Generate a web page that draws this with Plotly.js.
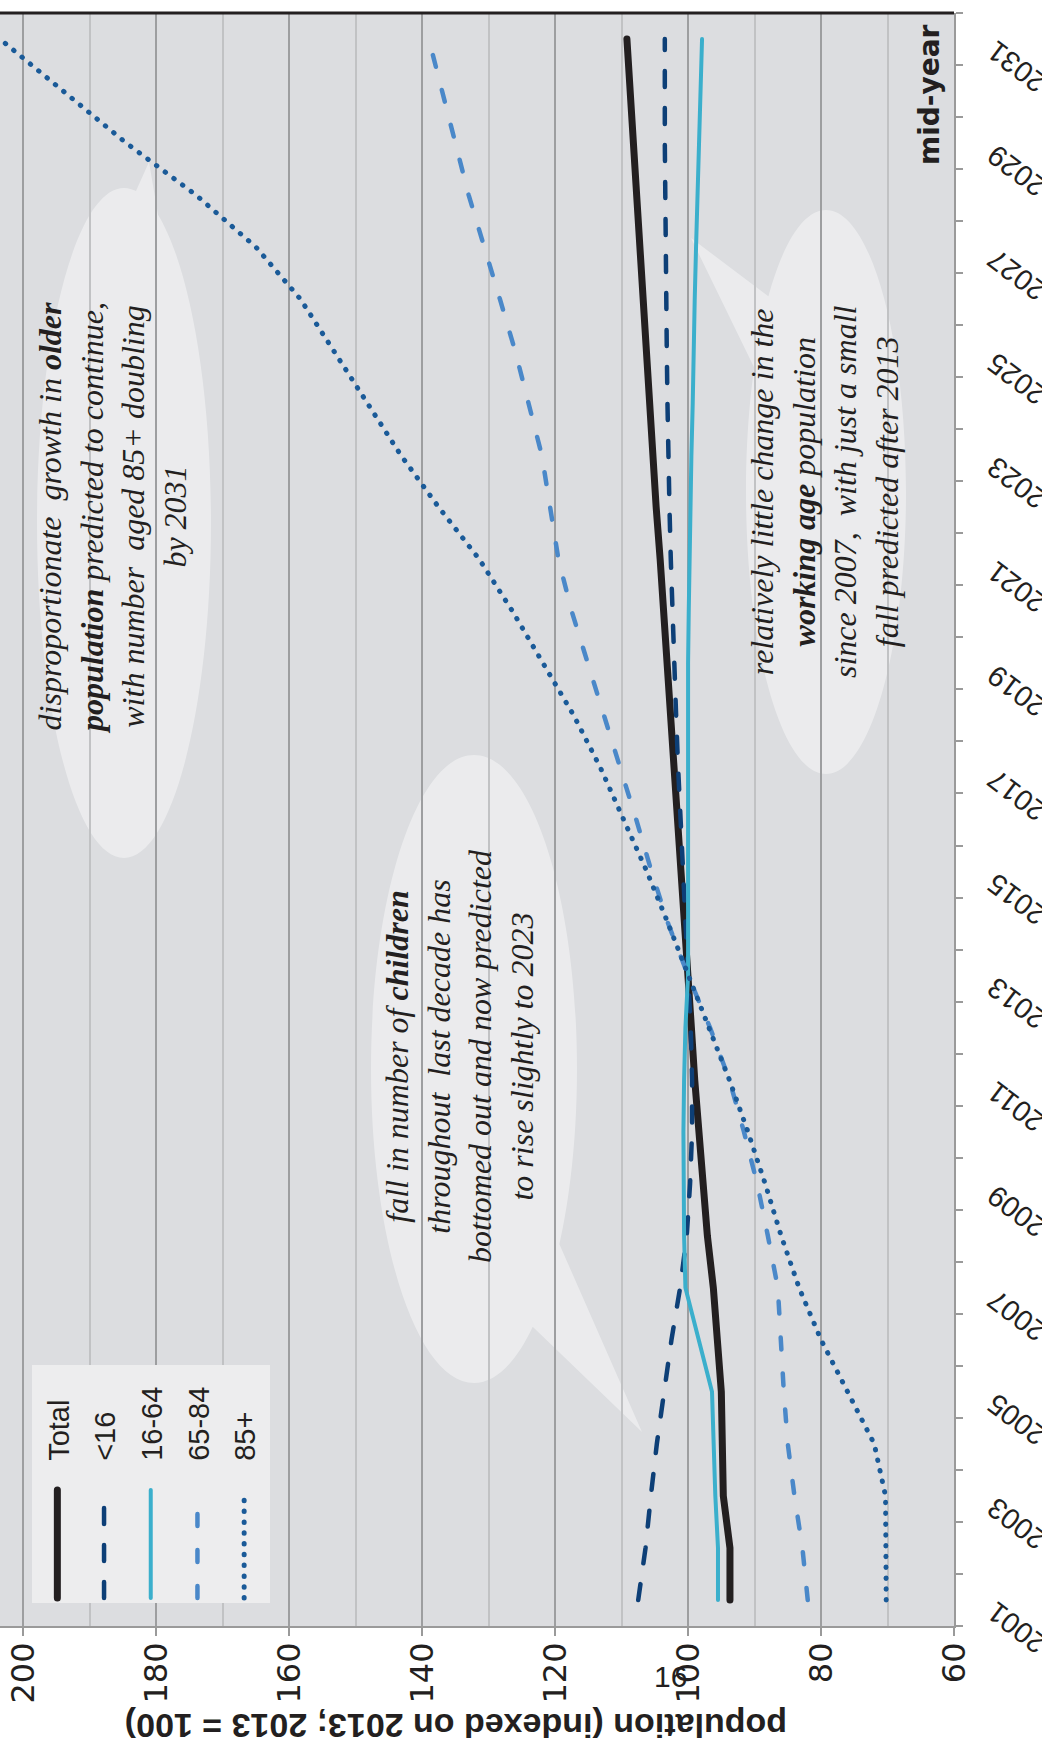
<!DOCTYPE html>
<html><head><meta charset="utf-8">
<script src="https://cdn.plot.ly/plotly-3.0.1.min.js"></script>
<style>
html,body{margin:0;padding:0;background:#fff;overflow:hidden;width:1042px;height:1754px;}
#wrap{position:absolute;left:0;top:0;width:1754px;height:1042px;transform-origin:0 0;transform:translate(0px,1754px) rotate(-90deg);}
.js-line{stroke-linecap:round;}
</style></head><body><div id="wrap"></div>
<script>
// ---- data (index, 2013 = 100), mid-year estimates/projections ----
const years = [2001,2002,2003,2004,2005,2006,2007,2008,2009,2010,2011,2012,2013,2014,2015,2016,2017,2018,2019,2020,2021,2022,2023,2024,2025,2026,2027,2028,2029,2030,2031];
const total     = [93.7,93.7,94.7,94.8,95.0,95.6,96.2,97.1,97.8,98.4,99.0,99.5,100,100.5,101.0,101.5,102.0,102.6,103.1,103.7,104.2,104.8,105.3,105.8,106.3,106.8,107.3,107.8,108.3,108.8,109.2];
const under16   = [107.5,106.4,105.6,104.7,103.6,102.5,101.2,100.2,99.7,99.4,99.4,99.6,100,100.4,100.8,101.2,101.5,101.8,102.1,102.4,102.6,102.8,103.0,103.1,103.2,103.3,103.4,103.4,103.5,103.5,103.5];
const age16to64 = [95.5,95.5,95.9,96.1,96.4,98.4,100.4,100.6,100.7,100.7,100.6,100.4,100,100.0,100.1,100.1,100.1,100.0,100.0,99.9,99.8,99.6,99.5,99.3,99.2,99.0,98.8,98.6,98.4,98.1,97.9];
const age65to84 = [82.0,82.8,84.0,85.0,85.6,86.1,86.5,88.0,89.6,91.6,93.8,96.7,100,103.0,105.5,107.8,110.2,112.6,115.0,117.5,119.5,120.8,122.0,124.0,126.0,128.3,130.6,133.0,135.0,137.0,139.0];
const age85plus = [70.2,70.2,70.3,72.0,76.0,80.0,83.3,86.0,88.4,91.0,93.8,96.8,100,103.0,106.2,109.6,113.2,117.2,121.8,126.4,131.4,137.5,143.2,148.3,153.3,158.3,165.0,174.0,184.5,194.0,203.5];
const seriesNames = ['Total','<16','16-64','65-84','85+'];
const valueTicks = [60,80,100,120,140,160,180,200];
const valueMinor = [70,90,110,130,150,170,190];
const axisTitle = 'population (indexed on 2013; 2013 = 100)';
const note1 = '<i>disproportionate  growth in <b>older</b><br><b>population</b> predicted to continue,<br>with number  aged 85+ doubling<br>by 2031</i>';
const note2 = '<i>fall in number of <b>children</b><br>throughout  last decade has<br>bottomed out and now predicted<br>to rise slightly to 2023</i>';
const note3 = '<i>relatively little change in the<br><b>working age</b> population<br>since 2007,  with just a small<br>fall predicted after 2013</i>';

// ---- geometry (unrotated chart, later turned 90deg anticlockwise) ----
const W=1754,H=1042,ML=128,MR=13,MT=0,MB=88;
const PW=W-ML-MR, PH=H-MT-MB;
function P(X,Y){ return [(W-Y-ML)/PW, 1-(X-MT)/PH]; } // picture px -> paper
function f(p){ return p[0].toFixed(5)+','+p[1].toFixed(5); }
function bubble(cx,cy,rx,ry,tip,b1,b2){
  const k=0.5523;
  let s='M'+f(P(cx+rx,cy));
  s+=' C'+f(P(cx+rx,cy+k*ry))+' '+f(P(cx+k*rx,cy+ry))+' '+f(P(cx,cy+ry));
  s+=' C'+f(P(cx-k*rx,cy+ry))+' '+f(P(cx-rx,cy+k*ry))+' '+f(P(cx-rx,cy));
  s+=' C'+f(P(cx-rx,cy-k*ry))+' '+f(P(cx-k*rx,cy-ry))+' '+f(P(cx,cy-ry));
  s+=' C'+f(P(cx+k*rx,cy-ry))+' '+f(P(cx+rx,cy-k*ry))+' '+f(P(cx+rx,cy))+' Z';
  const area=(b1[0]-tip[0])*(b2[1]-tip[1])-(b2[0]-tip[0])*(b1[1]-tip[1]);
  if(area<0){const t=b1;b1=b2;b2=t;}
  s+=' M'+f(P(tip[0],tip[1]))+' L'+f(P(b1[0],b1[1]))+' L'+f(P(b2[0],b2[1]))+' Z';
  return {type:'path',xref:'paper',yref:'paper',path:s,fillcolor:'rgba(255,255,255,0.42)',line:{width:0},layer:'between',fillrule:'nonzero'};
}

const xs = years.map(y=>y+0.5); // plotted at mid-year
const tickYears = years.concat([years[years.length-1]+1]);
const labelYears = years.filter(y=>y%2===1);
const labelText = labelYears.map(String);

const styles = [
  {color:'#231f20', width:7},
  {color:'#0d3f77', width:4.5, dash:'16px,21px'},
  {color:'#3bafcc', width:4},
  {color:'#4a88c9', width:4.5, dash:'12px,24px'},
  {color:'#1a5a98', width:5, dash:'0.5px,10.3px'}
];
const series = [total, under16, age16to64, age65to84, age85plus];
const lead = '\u00a0\u00a0\u00a0', trail = '\u00a0\u00a0';
const traces = series.map((vals,i)=>({
  type:'scatter', mode:'lines', x:xs, y:vals, name:lead+seriesNames[i]+trail,
  legendgroup:seriesNames[i], line:Object.assign({shape:'linear'},styles[i]),
  hoverinfo:'skip'
}));

const sans='Liberation Sans, Arial, sans-serif';
const wide='DejaVu Sans, Verdana, sans-serif';
const serif='Liberation Serif, Times New Roman, serif';
const narrow='Liberation Sans Narrow, Arial Narrow, Liberation Sans, sans-serif';
const ink='#231f20';

const t1=P(112,518), t2=P(460,1056), t3=P(824,492), tm=P(929,95), tt=P(456,1726), tp=P(670,1676);
function note(p,txt,fnt,extra){
  return Object.assign({xref:'paper',yref:'paper',x:p[0],y:p[1],xanchor:'center',yanchor:'middle',text:txt,showarrow:false,align:'center',font:fnt},extra||{});
}

const layout = {
  width:W, height:H,
  margin:{l:ML,r:MR,t:MT,b:MB,pad:0},
  paper_bgcolor:'#ffffff', plot_bgcolor:'#dcdde0',
  showlegend:true,
  legend:{x:(151-ML)/PW, y:1-32/PH, xanchor:'left', yanchor:'top', bgcolor:'#ededee', borderwidth:0,
          font:{family:sans,size:29,color:ink}, itemwidth:108, tracegroupgap:6, traceorder:'grouped'},
  xaxis:{range:[years[0], years[years.length-1]+1], tickvals:labelYears.map(y=>y+0.27), ticktext:labelText, tickangle:-53,
         ticks:'outside', ticklen:7, tickwidth:2, tickcolor:'rgba(0,0,0,0)', ticklabelstandoff:5,
         minor:{tickvals:tickYears, ticks:'outside', ticklen:7, tickwidth:2, tickcolor:'#9a9a9a', showgrid:false},
         showline:true, linecolor:'#9a9a9a', linewidth:2,
         showgrid:false, zeroline:false, automargin:false, tickfont:{family:sans,size:29,color:ink}},
  yaxis:{range:[60,203.5], tickvals:valueTicks, ticks:'outside', ticklen:8, tickwidth:2, tickcolor:'#9a9a9a',
         showline:true, linecolor:'#9a9a9a', linewidth:2, showgrid:true, gridcolor:'#9d9ea0', gridwidth:2,
         minor:{tickvals:valueMinor, showgrid:true, gridcolor:'#c1c2c4', gridwidth:2, ticks:''},
         zeroline:false, automargin:false, tickfont:{family:wide,size:32,color:ink}},
  shapes:[
    bubble(124,523,87,335,[149,162],[105,260],[165,255]),
    bubble(474,1069,103,314,[642,1432],[540,1200],[505,1300]),
    bubble(826,492,80,282,[691,238],[800,320],[770,400]),
    {type:'line',xref:'paper',yref:'paper',x0:1,x1:1,y0:0,y1:1,line:{color:ink,width:3}}
  ],
  annotations:[
    note(t1,note1,{family:serif,size:32,color:ink}),
    note(t2,note2,{family:serif,size:32,color:ink}),
    note(t3,note3,{family:serif,size:32,color:ink}),
    note(tm,'<b>mid-year</b>',{family:wide,size:28,color:ink}),
    note(tt,'<b>'+axisTitle+'</b>',{family:narrow,size:34,color:ink},{textangle:-90}),
    note(tp,'16',{family:narrow,size:30,color:ink},{textangle:90})
  ]
};
Plotly.newPlot('wrap', traces, layout, {staticPlot:true, displayModeBar:false});
</script></body></html>
